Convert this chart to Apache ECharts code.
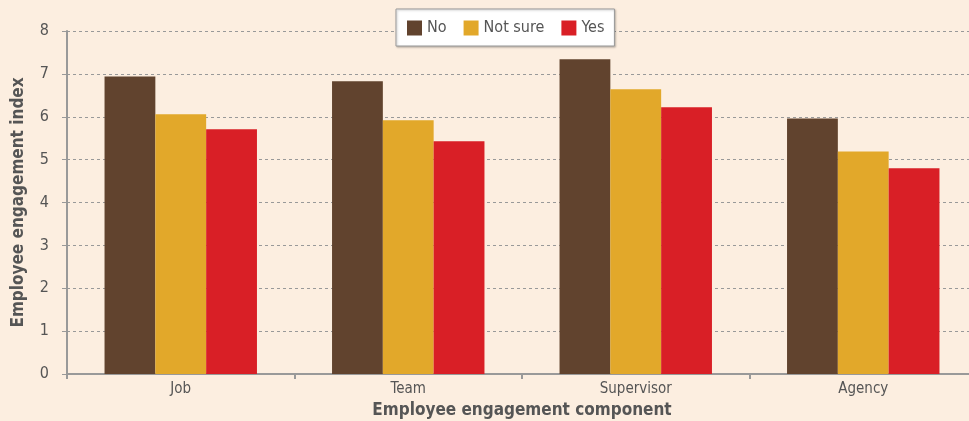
<!DOCTYPE html>
<html>
<head>
<meta charset="utf-8">
<script src="https://cdn.jsdelivr.net/npm/echarts@6/dist/echarts.min.js"></script>
<style>
  html, body { margin: 0; padding: 0; background: #FCEEE0; }
  #chart { width: 969px; height: 421px; }
</style>
</head>
<body>
<div id="chart"></div>
<script>
// Engagement index by component, split by response group
const categories = ['Job', 'Team', 'Supervisor', 'Agency'];
const seriesNames = ['No', 'Not sure', 'Yes'];
const noValues = [6.94, 6.83, 7.34, 5.96];
const notSureValues = [6.06, 5.92, 6.64, 5.19];
const yesValues = [5.71, 5.43, 6.22, 4.80];
const yTicks = [0, 1, 2, 3, 4, 5, 6, 7, 8];

const colors = ['#61432E', '#E2A82A', '#D91F26'];
const font = '"DejaVu Sans Condensed", sans-serif';

const chart = echarts.init(document.getElementById('chart'), null, { renderer: 'canvas' });

const seriesData = [noValues, notSureValues, yesValues];

chart.setOption({
  backgroundColor: '#FCEEE0',
  animation: false,
  color: colors,
  grid: { left: 67, right: -8, top: 31, bottom: 47, containLabel: false, outerBoundsMode: 'none' },
  legend: {
    top: 9,
    left: 396,
    itemWidth: 15,
    itemHeight: 15,
    itemGap: 17,
    padding: [11, 10, 10, 11],
    backgroundColor: '#FFFFFF',
    borderColor: '#9A9A9A',
    borderWidth: 1,
    shadowColor: 'rgba(0,0,0,0.25)',
    shadowBlur: 2,
    shadowOffsetX: 1,
    shadowOffsetY: 1,
    textStyle: { fontFamily: font, fontSize: 16, color: '#555555', padding: [2, 0, 0, 0] },
    icon: 'rect',
    data: seriesNames
  },
  xAxis: {
    type: 'category',
    data: categories,
    name: 'Employee engagement component',
    nameLocation: 'middle',
    nameGap: 27,
    nameTextStyle: { fontFamily: font, fontSize: 17, fontWeight: 'bold', color: '#555555' },
    axisLine: { lineStyle: { color: '#999999', width: 2 } },
    axisTick: { show: true, length: 5, lineStyle: { color: '#999999', width: 2 } },
    axisLabel: { fontFamily: font, fontSize: 15, color: '#555555', margin: 8 }
  },
  yAxis: {
    type: 'value',
    min: yTicks[0],
    max: yTicks[yTicks.length - 1],
    interval: 1,
    name: 'Employee engagement index',
    nameLocation: 'middle',
    nameGap: 40,
    nameTextStyle: { fontFamily: font, fontSize: 17, fontWeight: 'bold', color: '#555555' },
    axisLine: { show: true, lineStyle: { color: '#999999', width: 2 } },
    axisTick: { show: true, length: 5, lineStyle: { color: '#999999', width: 1 } },
    axisLabel: { fontFamily: font, fontSize: 16, color: '#555555', margin: 18 },
    splitLine: { show: true, lineStyle: { color: '#999999', type: [3, 3], width: 1 } }
  },
  series: seriesNames.map((name, i) => ({
    name: name,
    type: 'bar',
    data: seriesData[i],
    barGap: '0%',
    barCategoryGap: '33%',
    itemStyle: { color: colors[i] }
  }))
});
</script>
</body>
</html>
